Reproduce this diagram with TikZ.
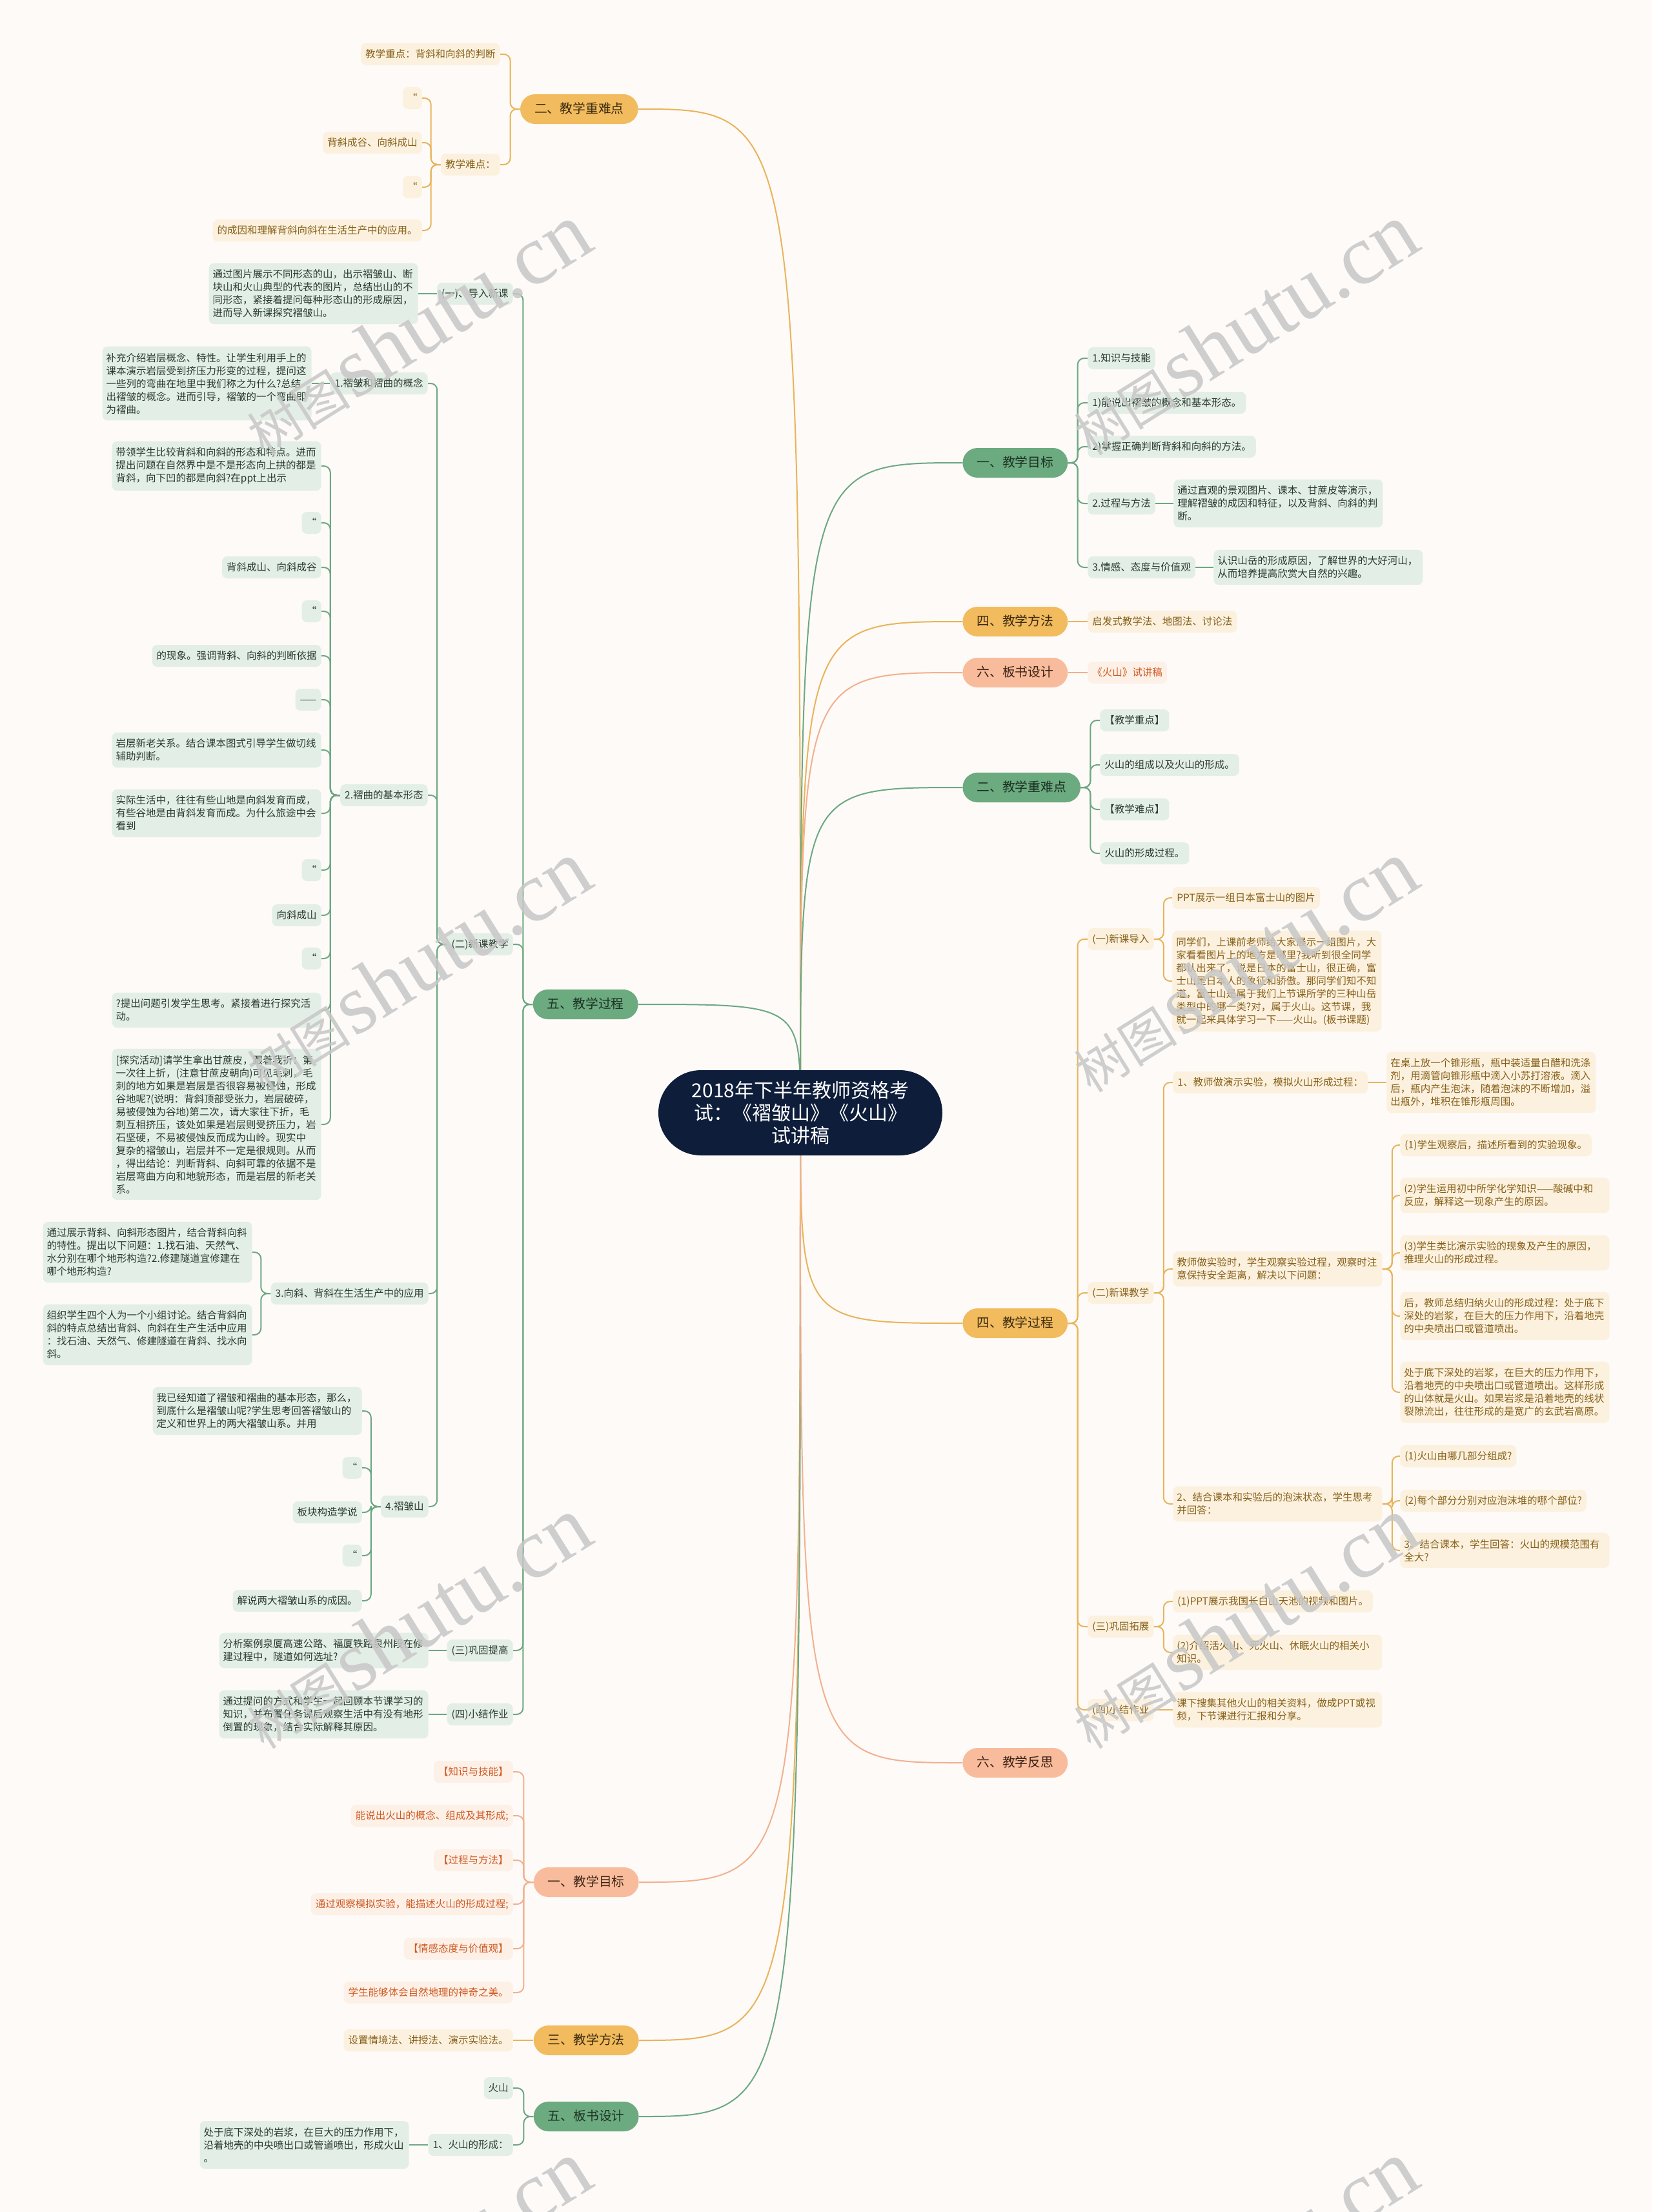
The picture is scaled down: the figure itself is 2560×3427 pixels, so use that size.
\documentclass[tikz,border=0pt]{standalone}
\usepackage{fontspec}
\setmainfont{Noto Sans CJK SC}
\newfontfamily\wmlatin{Liberation Serif}
\definecolor{bgc}{HTML}{FDFAF7}
\definecolor{navy}{HTML}{0E1D3A}
\definecolor{opillc}{HTML}{F1BB5E}
\definecolor{gpillc}{HTML}{6CAA80}
\definecolor{spillc}{HTML}{F8BC9C}
\definecolor{opilltx}{HTML}{3B2A0E}
\definecolor{gpilltx}{HTML}{1C3324}
\definecolor{spilltx}{HTML}{3D2314}
\definecolor{gleafc}{HTML}{E3EFE6}
\definecolor{oleafc}{HTML}{FCF1DE}
\definecolor{sleafc}{HTML}{FDF0E7}
\definecolor{gtx}{HTML}{2A3A2E}
\definecolor{otx}{HTML}{86601A}
\definecolor{stx}{HTML}{CF5A22}
\definecolor{glinec}{HTML}{6CA882}
\definecolor{olinec}{HTML}{E8B45A}
\definecolor{slinec}{HTML}{F2B08F}
\pgfdeclarelayer{bgl}\pgfdeclarelayer{edgel}\pgfdeclarelayer{wml}
\pgfsetlayers{bgl,edgel,main,wml}
\newcommand\leaffont{\fontsize{7.75pt}{10pt}\selectfont}
\newcommand\pillfont{\fontsize{9.9pt}{12pt}\selectfont}
\newcommand\rootfont{\fontsize{15pt}{17.5pt}\selectfont}
\newcommand\LinkL[3]{\draw[#1] (#2.west) -- ++(-15,0) |- (#3.east);}
\newcommand\LinkR[3]{\draw[#1] (#2.east) -- ++(15,0) |- (#3.west);}
\newcommand\FlatL[3]{\draw[#1] (#2.west) -- (#2.west -| #3.east);}
\newcommand\FlatR[3]{\draw[#1] (#2.east) -- (#2.east -| #3.west);}
\newcommand\CurveL[2]{\draw[#1] (root.center) .. controls (root.center |- #2.east) .. (#2.east);}
\newcommand\CurveR[2]{\draw[#1] (root.center) .. controls (root.center |- #2.west) .. (#2.west);}
\tikzset{
  leafbase/.style={rounded corners=4pt, inner xsep=3.5pt, inner ysep=5pt, font=\leaffont},
  oneline/.style={text height=6pt, text depth=1pt},
  multiline/.style={text width=156pt, align=left, inner xsep=3pt},
  gleaf/.style={leafbase, fill=gleafc, text=gtx},
  oleaf/.style={leafbase, fill=oleafc, text=otx},
  sleaf/.style={leafbase, fill=sleafc, text=stx},
  pill/.style={rounded corners=11.5pt, minimum height=23pt, inner xsep=11pt, inner ysep=0pt, font=\pillfont, text height=7.5pt, text depth=1.5pt},
  gpill/.style={pill, fill=gpillc, text=gpilltx},
  opill/.style={pill, fill=opillc, text=opilltx},
  spill/.style={pill, fill=spillc, text=spilltx},
  glink/.style={draw=glinec, line width=1pt, rounded corners=5pt},
  olink/.style={draw=olinec, line width=1pt, rounded corners=5pt},
  slink/.style={draw=slinec, line width=1pt, rounded corners=5pt},
  wmark/.style={text=black!22, text opacity=0.85, rotate=32, inner sep=0pt}
}
\begin{document}
\begin{tikzpicture}[x=0.5pt, y=-0.5pt]
\useasboundingbox (0,0) rectangle (2560,3427);
\begin{pgfonlayer}{bgl}
\fill[bgc] (0,0) rectangle (2560,3427);
\end{pgfonlayer}

% root
\node[fill=navy, text=white, rounded corners=33pt, minimum width=220pt, minimum height=66pt, align=center, font=\rootfont, inner sep=0pt] (root) at (1240,1724) {2018年下半年教师资格考\\试：《褶皱山》《火山》\\试讲稿};

% ===== LEFT: 二、教学重难点 =====
\node[opill, anchor=east] (n1) at (989,169) {二、教学重难点};
\node[oleaf, oneline, anchor=east] (n1a) at (775,84) {教学重点：背斜和向斜的判断};
\node[oleaf, oneline, anchor=east] (n1b) at (775,255) {教学难点：};
\node[oleaf, oneline, anchor=east, minimum width=14.5pt] (n1b1) at (654,152) {“};
\node[oleaf, oneline, anchor=east] (n1b2) at (654,221) {背斜成谷、向斜成山};
\node[oleaf, oneline, anchor=east, minimum width=14.5pt] (n1b3) at (654,290) {“};
\node[oleaf, oneline, anchor=east] (n1b4) at (654,357) {的成因和理解背斜向斜在生活生产中的应用。};

% ===== LEFT: 五、教学过程 =====
\node[gpill, anchor=east] (n2) at (989,1556) {五、教学过程};
\node[gleaf, oneline, anchor=east] (n2a) at (795,455) {(一)、导入新课};
\node[gleaf, multiline, anchor=east] (n2a1) at (648,455) {通过图片展示不同形态的山，出示褶皱山、断\\块山和火山典型的代表的图片，总结出山的不\\同形态，紧接着提问每种形态山的形成原因，\\进而导入新课探究褶皱山。};
\node[gleaf, oneline, anchor=east] (n2b) at (795,1463) {(二)新课教学};
\node[gleaf, oneline, anchor=east] (n2b1) at (663,594) {1.褶皱和褶曲的概念};
\node[gleaf, multiline, anchor=east] (n2b1a) at (483,594) {补充介绍岩层概念、特性。让学生利用手上的\\课本演示岩层受到挤压力形变的过程，提问这\\一些列的弯曲在地里中我们称之为什么?总结\\出褶皱的概念。进而引导，褶皱的一个弯曲即\\为褶曲。};
\node[gleaf, oneline, anchor=east] (n2b2) at (663,1232) {2.褶曲的基本形态};
\node[gleaf, multiline, anchor=east] (c1) at (498,722) {带领学生比较背斜和向斜的形态和特点。进而\\提出问题在自然界中是不是形态向上拱的都是\\背斜，向下凹的都是向斜?在ppt上出示};
\node[gleaf, oneline, anchor=east, minimum width=15pt] (c2) at (498,810) {“};
\node[gleaf, oneline, anchor=east] (c3) at (498,879) {背斜成山、向斜成谷};
\node[gleaf, oneline, anchor=east, minimum width=15pt] (c4) at (498,947) {“};
\node[gleaf, oneline, anchor=east] (c5) at (498,1016) {的现象。强调背斜、向斜的判断依据};
\node[gleaf, oneline, anchor=east] (c6) at (498,1084) {——};
\node[gleaf, multiline, anchor=east] (c7) at (498,1162) {岩层新老关系。结合课本图式引导学生做切线\\辅助判断。};
\node[gleaf, multiline, anchor=east] (c8) at (498,1260) {实际生活中，往往有些山地是向斜发育而成，\\有些谷地是由背斜发育而成。为什么旅途中会\\看到};
\node[gleaf, oneline, anchor=east, minimum width=15pt] (c9) at (498,1348) {“};
\node[gleaf, oneline, anchor=east] (c10) at (498,1418) {向斜成山};
\node[gleaf, oneline, anchor=east, minimum width=15pt] (c11) at (498,1485) {“};
\node[gleaf, multiline, anchor=east] (c12) at (498,1565) {?提出问题引发学生思考。紧接着进行探究活\\动。};
\node[gleaf, multiline, anchor=east] (c13) at (498,1742) {[探究活动]请学生拿出甘蔗皮，跟着我折：第\\一次往上折，(注意甘蔗皮朝向)可见毛刺，毛\\刺的地方如果是岩层是否很容易被侵蚀，形成\\谷地呢?(说明：背斜顶部受张力，岩层破碎，\\易被侵蚀为谷地)第二次，请大家往下折，毛\\刺互相挤压，该处如果是岩层则受挤压力，岩\\石坚硬，不易被侵蚀反而成为山岭。现实中\\复杂的褶皱山，岩层并不一定是很规则。从而\\，得出结论：判断背斜、向斜可靠的依据不是\\岩层弯曲方向和地貌形态，而是岩层的新老关\\系。};
\node[gleaf, oneline, anchor=east] (n2b3) at (664,2004) {3.向斜、背斜在生活生产中的应用};
\node[gleaf, multiline, anchor=east] (d1) at (391,1940) {通过展示背斜、向斜形态图片，结合背斜向斜\\的特性。提出以下问题：1.找石油、天然气、\\水分别在哪个地形构造?2.修建隧道宜修建在\\哪个地形构造?};
\node[gleaf, multiline, anchor=east] (d2) at (391,2068) {组织学生四个人为一个小组讨论。结合背斜向\\斜的特点总结出背斜、向斜在生产生活中应用\\：找石油、天然气、修建隧道在背斜、找水向\\斜。};
\node[gleaf, oneline, anchor=east] (n2b4) at (664,2334) {4.褶皱山};
\node[gleaf, multiline, anchor=east] (e1) at (561,2186) {我已经知道了褶皱和褶曲的基本形态，那么，\\到底什么是褶皱山呢?学生思考回答褶皱山的\\定义和世界上的两大褶皱山系。并用};
\node[gleaf, oneline, anchor=east, minimum width=15pt] (e2) at (561,2274) {“};
\node[gleaf, oneline, anchor=east] (e3) at (561,2343) {板块构造学说};
\node[gleaf, oneline, anchor=east, minimum width=15pt] (e4) at (561,2410) {“};
\node[gleaf, oneline, anchor=east] (e5) at (561,2480) {解说两大褶皱山系的成因。};
\node[gleaf, oneline, anchor=east] (n2c) at (795,2557) {(三)巩固提高};
\node[gleaf, multiline, anchor=east] (n2c1) at (664,2557) {分析案例泉厦高速公路、福厦铁路泉州段在修\\建过程中，隧道如何选址?};
\node[gleaf, oneline, anchor=east] (n2d) at (795,2656) {(四)小结作业};
\node[gleaf, multiline, anchor=east] (n2d1) at (664,2656) {通过提问的方式和学生一起回顾本节课学习的\\知识，并布置任务课后观察生活中有没有地形\\倒置的现象，结合实际解释其原因。};

% ===== LEFT: 一、教学目标 =====
\node[spill, anchor=east] (n3) at (990,2916) {一、教学目标};
\node[sleaf, oneline, anchor=east] (f1) at (795,2745) {【知识与技能】};
\node[sleaf, oneline, anchor=east] (f2) at (795,2813) {能说出火山的概念、组成及其形成;};
\node[sleaf, oneline, anchor=east] (f3) at (795,2882) {【过程与方法】};
\node[sleaf, oneline, anchor=east] (f4) at (795,2950) {通过观察模拟实验，能描述火山的形成过程;};
\node[sleaf, oneline, anchor=east] (f5) at (795,3019) {【情感态度与价值观】};
\node[sleaf, oneline, anchor=east] (f6) at (795,3087) {学生能够体会自然地理的神奇之美。};

% ===== LEFT: 三、教学方法 =====
\node[opill, anchor=east] (n4) at (990,3161) {三、教学方法};
\node[oleaf, oneline, anchor=east] (g1) at (795,3161) {设置情境法、讲授法、演示实验法。};

% ===== LEFT: 五、板书设计 =====
\node[gpill, anchor=east] (n5) at (990,3279) {五、板书设计};
\node[gleaf, oneline, anchor=east] (h1) at (795,3235) {火山};
\node[gleaf, oneline, anchor=east] (h2) at (795,3323) {1、火山的形成：};
\node[gleaf, multiline, anchor=east] (h2a) at (634,3323) {处于底下深处的岩浆，在巨大的压力作用下，\\沿着地壳的中央喷出口或管道喷出，形成火山\\。};

% ===== RIGHT: 一、教学目标 =====
\node[gpill, anchor=west] (m1) at (1491,717) {一、教学目标};
\node[gleaf, oneline, anchor=west] (k1) at (1685,555) {1.知识与技能};
\node[gleaf, oneline, anchor=west] (k2) at (1685,624) {1)能说出褶皱的概念和基本形态。};
\node[gleaf, oneline, anchor=west] (k3) at (1685,692) {2)掌握正确判断背斜和向斜的方法。};
\node[gleaf, oneline, anchor=west] (k4) at (1685,780) {2.过程与方法};
\node[gleaf, multiline, anchor=west] (k4a) at (1818,780) {通过直观的景观图片、课本、甘蔗皮等演示，\\理解褶皱的成因和特征，以及背斜、向斜的判\\断。};
\node[gleaf, oneline, anchor=west] (k5) at (1685,879) {3.情感、态度与价值观};
\node[gleaf, multiline, anchor=west] (k5a) at (1880,879) {认识山岳的形成原因，了解世界的大好河山，\\从而培养提高欣赏大自然的兴趣。};

% ===== RIGHT: 四、教学方法 / 六、板书设计 =====
\node[opill, anchor=west] (m2) at (1491,963) {四、教学方法};
\node[oleaf, oneline, anchor=west] (l1) at (1685,963) {启发式教学法、地图法、讨论法};
\node[spill, anchor=west] (m3) at (1491,1042) {六、板书设计};
\node[sleaf, oneline, anchor=west] (l2) at (1685,1042) {《火山》试讲稿};

% ===== RIGHT: 二、教学重难点 =====
\node[gpill, anchor=west] (m4) at (1491,1220) {二、教学重难点};
\node[gleaf, oneline, anchor=west] (p1) at (1704,1116) {【教学重点】};
\node[gleaf, oneline, anchor=west] (p2) at (1704,1185) {火山的组成以及火山的形成。};
\node[gleaf, oneline, anchor=west] (p3) at (1704,1254) {【教学难点】};
\node[gleaf, oneline, anchor=west] (p4) at (1704,1322) {火山的形成过程。};

% ===== RIGHT: 四、教学过程 =====
\node[opill, anchor=west] (m5) at (1491,2050) {四、教学过程};
\node[oleaf, oneline, anchor=west] (q1) at (1685,1455) {(一)新课导入};
\node[oleaf, oneline, anchor=west] (q1a) at (1816,1391) {PPT展示一组日本富士山的图片};
\node[oleaf, multiline, anchor=west] (q1b) at (1816,1520) {同学们，上课前老师给大家展示一组图片，大\\家看看图片上的地方是哪里?我听到很全同学\\都认出来了，说是日本的富士山，很正确，富\\士山是日本人的象征和骄傲。那同学们知不知\\道，富士山是属于我们上节课所学的三种山岳\\类型中的哪一类?对，属于火山。这节课，我\\就一起来具体学习一下——火山。(板书课题)};
\node[oleaf, oneline, anchor=west] (q2) at (1685,2003) {(二)新课教学};
\node[oleaf, oneline, anchor=west] (q2a) at (1817,1677) {1、教师做演示实验，模拟火山形成过程：};
\node[oleaf, multiline, anchor=west] (q2a1) at (2148,1677) {在桌上放一个锥形瓶，瓶中装适量白醋和洗涤\\剂，用滴管向锥形瓶中滴入小苏打溶液。滴入\\后，瓶内产生泡沫，随着泡沫的不断增加，溢\\出瓶外，堆积在锥形瓶周围。};
\node[oleaf, multiline, anchor=west] (q2b) at (1817,1966) {教师做实验时，学生观察实验过程，观察时注\\意保持安全距离，解决以下问题：};
\node[oleaf, oneline, anchor=west] (r1) at (2169,1774) {(1)学生观察后，描述所看到的实验现象。};
\node[oleaf, multiline, anchor=west] (r2) at (2169,1852) {(2)学生运用初中所学化学知识——酸碱中和\\反应，解释这一现象产生的原因。};
\node[oleaf, multiline, anchor=west] (r3) at (2169,1941) {(3)学生类比演示实验的现象及产生的原因，\\推理火山的形成过程。};
\node[oleaf, multiline, anchor=west] (r4) at (2169,2039) {后，教师总结归纳火山的形成过程：处于底下\\深处的岩浆，在巨大的压力作用下，沿着地壳\\的中央喷出口或管道喷出。};
\node[oleaf, multiline, anchor=west] (r5) at (2169,2157) {处于底下深处的岩浆，在巨大的压力作用下，\\沿着地壳的中央喷出口或管道喷出。这样形成\\的山体就是火山。如果岩浆是沿着地壳的线状\\裂隙流出，往往形成的是宽广的玄武岩高原。};
\node[oleaf, multiline, anchor=west] (q2c) at (1817,2330) {2、结合课本和实验后的泡沫状态，学生思考\\并回答：};
\node[oleaf, oneline, anchor=west] (s1) at (2169,2256) {(1)火山由哪几部分组成?};
\node[oleaf, oneline, anchor=west] (s2) at (2169,2325) {(2)每个部分分别对应泡沫堆的哪个部位?};
\node[oleaf, multiline, anchor=west] (s3) at (2169,2402) {3、结合课本，学生回答：火山的规模范围有\\全大?};
\node[oleaf, oneline, anchor=west] (q3) at (1685,2520) {(三)巩固拓展};
\node[oleaf, oneline, anchor=west] (t1) at (1817,2481) {(1)PPT展示我国长白山天池的视频和图片。};
\node[oleaf, multiline, anchor=west] (t2) at (1817,2560) {(2)介绍活火山、死火山、休眠火山的相关小\\知识。};
\node[oleaf, oneline, anchor=west] (q4) at (1685,2649) {(四)小结作业};
\node[oleaf, multiline, anchor=west] (t3) at (1817,2649) {课下搜集其他火山的相关资料，做成PPT或视\\频，下节课进行汇报和分享。};

% ===== RIGHT: 六、教学反思 =====
\node[spill, anchor=west] (m6) at (1491,2731) {六、教学反思};

% ===== connectors =====
\begin{pgfonlayer}{edgel}
\CurveL{olink}{n1}
\CurveL{glink}{n2}
\CurveL{slink}{n3}
\CurveL{olink}{n4}
\CurveL{glink}{n5}
\CurveR{glink}{m1}
\CurveR{olink}{m2}
\CurveR{slink}{m3}
\CurveR{glink}{m4}
\CurveR{olink}{m5}
\CurveR{slink}{m6}
% left 二
\LinkL{olink}{n1}{n1a}
\LinkL{olink}{n1}{n1b}
\LinkL{olink}{n1b}{n1b1}
\LinkL{olink}{n1b}{n1b2}
\LinkL{olink}{n1b}{n1b3}
\LinkL{olink}{n1b}{n1b4}
% left 五
\LinkL{glink}{n2}{n2a}
\LinkL{glink}{n2}{n2b}
\LinkL{glink}{n2}{n2c}
\LinkL{glink}{n2}{n2d}
\FlatL{glink}{n2a}{n2a1}
\LinkL{glink}{n2b}{n2b1}
\LinkL{glink}{n2b}{n2b2}
\LinkL{glink}{n2b}{n2b3}
\LinkL{glink}{n2b}{n2b4}
\FlatL{glink}{n2b1}{n2b1a}
\foreach \c in {c1,c2,c3,c4,c5,c6,c7,c8,c9,c10,c11,c12,c13} {\LinkL{glink}{n2b2}{\c}}
\LinkL{glink}{n2b3}{d1}
\LinkL{glink}{n2b3}{d2}
\foreach \c in {e1,e2,e3,e4,e5} {\LinkL{glink}{n2b4}{\c}}
\FlatL{glink}{n2c}{n2c1}
\FlatL{glink}{n2d}{n2d1}
% left 一
\foreach \c in {f1,f2,f3,f4,f5,f6} {\LinkL{slink}{n3}{\c}}
\FlatL{olink}{n4}{g1}
\LinkL{glink}{n5}{h1}
\LinkL{glink}{n5}{h2}
\FlatL{glink}{h2}{h2a}
% right 一
\foreach \c in {k1,k2,k3,k4,k5} {\LinkR{glink}{m1}{\c}}
\FlatR{glink}{k4}{k4a}
\FlatR{glink}{k5}{k5a}
\FlatR{olink}{m2}{l1}
\FlatR{slink}{m3}{l2}
\foreach \c in {p1,p2,p3,p4} {\LinkR{glink}{m4}{\c}}
% right 四 教学过程
\foreach \c in {q1,q2,q3,q4} {\LinkR{olink}{m5}{\c}}
\LinkR{olink}{q1}{q1a}
\LinkR{olink}{q1}{q1b}
\LinkR{olink}{q2}{q2a}
\LinkR{olink}{q2}{q2b}
\LinkR{olink}{q2}{q2c}
\FlatR{olink}{q2a}{q2a1}
\foreach \c in {r1,r2,r3,r4,r5} {\LinkR{olink}{q2b}{\c}}
\foreach \c in {s1,s2,s3} {\LinkR{olink}{q2c}{\c}}
\LinkR{olink}{q3}{t1}
\LinkR{olink}{q3}{t2}
\FlatR{olink}{q4}{t3}
\end{pgfonlayer}

% ===== watermarks =====
\begin{pgfonlayer}{wml}
\foreach \wy in {510,1497,2514,3510} {
  \foreach \wx in {645,1926} {
    \node[wmark] at (\wx,\wy) {{\fontsize{40pt}{40pt}\selectfont 树图} {\wmlatin\fontsize{66pt}{66pt}\selectfont shutu.cn}};
  }
}
\end{pgfonlayer}
\end{tikzpicture}
\end{document}
